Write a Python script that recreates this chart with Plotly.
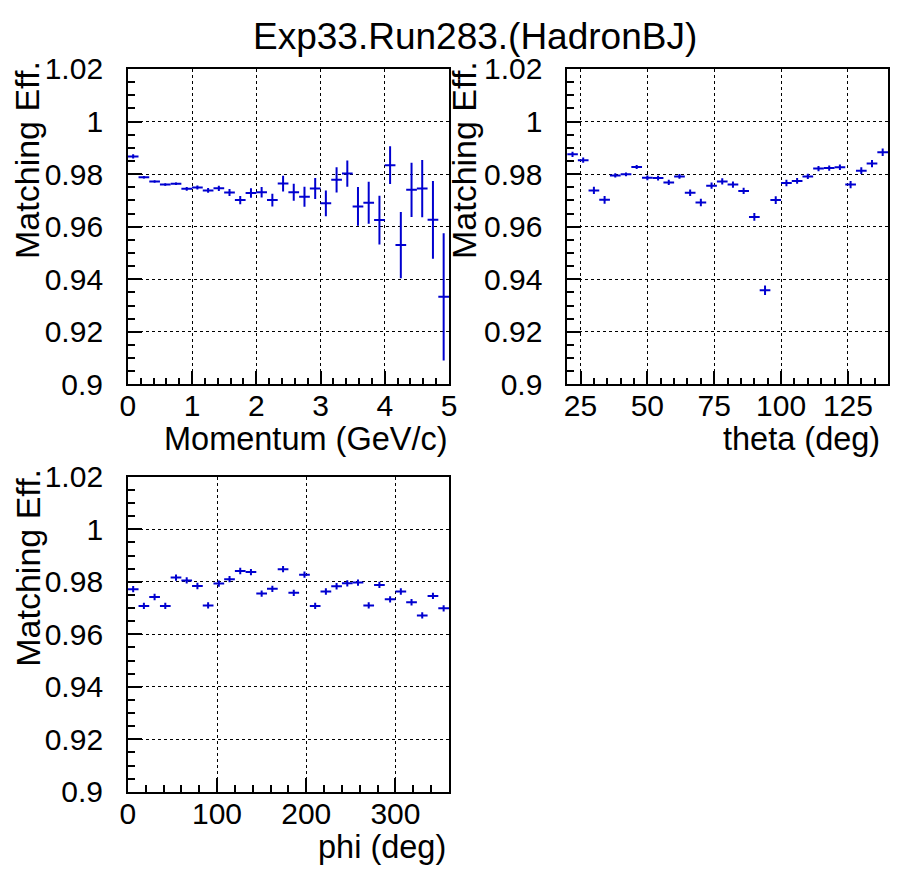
import plotly.graph_objects as go

# ---------------- data ----------------
mom_x = [0.083, 0.250, 0.417, 0.583, 0.750, 0.917, 1.083, 1.250, 1.417, 1.583,
         1.750, 1.917, 2.083, 2.250, 2.417, 2.583, 2.750, 2.917, 3.083, 3.250,
         3.417, 3.583, 3.750, 3.917, 4.083, 4.250, 4.417, 4.583, 4.750, 4.917]
mom_halfwidth = 0.0833
mom_eff = [0.9867, 0.9788, 0.9772, 0.9760, 0.9763, 0.9744, 0.9749, 0.9738, 0.9746, 0.9730,
           0.9701, 0.9728, 0.9731, 0.9701, 0.9764, 0.9731, 0.9714, 0.9745, 0.9689, 0.9778,
           0.9802, 0.9677, 0.9691, 0.9625, 0.9834, 0.9530, 0.9740, 0.9745, 0.9626, 0.9333]
mom_err = [0.0008, 0.0005, 0.0004, 0.0004, 0.0005, 0.0007, 0.0008, 0.0009, 0.0010, 0.0013,
           0.0016, 0.0018, 0.0020, 0.0024, 0.0030, 0.0032, 0.0038, 0.0040, 0.0049, 0.0048,
           0.0050, 0.0074, 0.0080, 0.0093, 0.0072, 0.0126, 0.0103, 0.0109, 0.0148, 0.0242]

theta_x = [22, 26, 30, 34, 38, 42, 46, 50, 54, 58, 62, 66, 70, 74, 78,
           82, 86, 90, 94, 98, 102, 106, 110, 114, 118, 122, 126, 130, 134, 138]
theta_halfwidth = 2.0
theta_eff = [0.9875, 0.9853, 0.9738, 0.9702, 0.9795, 0.9799, 0.9827, 0.9786, 0.9785, 0.9768,
             0.9791, 0.9729, 0.9692, 0.9756, 0.9772, 0.9760, 0.9736, 0.9637, 0.9358, 0.9701,
             0.9766, 0.9774, 0.9791, 0.9821, 0.9823, 0.9826, 0.9760, 0.9813, 0.9840, 0.9883]
theta_err = [0.0010, 0.0010, 0.0014, 0.0015, 0.0008, 0.0007, 0.0008, 0.0009, 0.0009, 0.0010,
             0.0009, 0.0012, 0.0014, 0.0012, 0.0012, 0.0012, 0.0012, 0.0015, 0.0018, 0.0015,
             0.0012, 0.0011, 0.0010, 0.0010, 0.0010, 0.0010, 0.0014, 0.0013, 0.0014, 0.0014]

phi_x = [6, 18, 30, 42, 54, 66, 78, 90, 102, 114, 126, 138, 150, 162, 174,
         186, 198, 210, 222, 234, 246, 258, 270, 282, 294, 306, 318, 330, 342, 354]
phi_halfwidth = 6.0
phi_eff = [0.9772, 0.9708, 0.9742, 0.9708, 0.9816, 0.9805, 0.9784, 0.9710, 0.9793, 0.9810,
           0.9841, 0.9837, 0.9755, 0.9773, 0.9848, 0.9758, 0.9827, 0.9708, 0.9763, 0.9783,
           0.9794, 0.9797, 0.9710, 0.9788, 0.9733, 0.9763, 0.9722, 0.9672, 0.9746, 0.9699]
phi_err = [0.0012] * 30

y_tickvals = [0.90, 0.92, 0.94, 0.96, 0.98, 1.00, 1.02]
y_ticktext = ["0.9", "0.92", "0.94", "0.96", "0.98", "1", "1.02"]

title_text = "Exp33.Run283.(HadronBJ)"
y_title = "Matching Eff."
x_titles = ["Momentum (GeV/c)", "theta (deg)", "phi (deg)"]

# ---------------- figure ----------------
W, H = 898, 889
FONT = "Liberation Sans, Arial, Helvetica, sans-serif"
BLUE = "#0000d0"
TICK_SIZE = 30
LABEL_SIZE = 32.5
YLABEL_SIZE = 34
TITLE_SIZE = 37

def px_x(p):
    return p / W

def px_y(p):
    return 1 - p / H

fig = go.Figure()

panels = [
    (mom_x, mom_eff, mom_err, mom_halfwidth, "x", "y"),
    (theta_x, theta_eff, theta_err, theta_halfwidth, "x2", "y2"),
    (phi_x, phi_eff, phi_err, phi_halfwidth, "x3", "y3"),
]
for xs, ys, es, hw, xa, ya in panels:
    fig.add_trace(go.Scatter(
        x=xs, y=ys, mode="markers", xaxis=xa, yaxis=ya,
        marker=dict(size=2, color=BLUE),
        error_x=dict(type="constant", value=hw, width=0, thickness=2, color=BLUE),
        error_y=dict(type="data", array=es, width=0, thickness=2, color=BLUE),
        showlegend=False, hoverinfo="skip",
    ))

common_axis = dict(
    showline=True, mirror=True, linecolor="black", linewidth=1.5,
    ticks="inside", ticklen=14, tickwidth=1.5, tickcolor="black",
    showgrid=True, gridcolor="black", gridwidth=1, griddash="dot",
    zeroline=False,
    tickfont=dict(family=FONT, size=TICK_SIZE, color="black"),
)

dom_x_left = [px_x(122), px_x(449)]
dom_x_right = [px_x(569.3), px_x(896)]
dom_y_top = [px_y(382), px_y(54)]
dom_y_bot = [px_y(805.7), px_y(478)]

def yaxis(anchor, dom):
    d = dict(common_axis)
    d.update(domain=dom, anchor=anchor, range=[0.9, 1.02],
             tickvals=y_tickvals, ticktext=y_ticktext,
             ticklabelstandoff=17,
             minor=dict(dtick=0.005, tick0=0.9, ticks="inside", ticklen=7,
                        tickwidth=1.5, tickcolor="black", showgrid=False))
    return d

def xaxis(anchor, dom, rng, dtick, mdtick):
    d = dict(common_axis)
    d.update(domain=dom, anchor=anchor, range=rng, dtick=dtick, tick0=0,
             ticklabelstandoff=-6,
             minor=dict(dtick=mdtick, tick0=0, ticks="inside", ticklen=7,
                        tickwidth=1.5, tickcolor="black", showgrid=False))
    return d

fig.update_layout(
    width=W, height=H,
    margin=dict(l=0, r=0, t=0, b=0),
    paper_bgcolor="white", plot_bgcolor="white",
    font=dict(family=FONT, color="black"),
    xaxis=xaxis("y", dom_x_left, [0, 5], 1, 0.2),
    yaxis=yaxis("x", dom_y_top),
    xaxis2=xaxis("y2", dom_x_right, [20, 140], 25, 5),
    yaxis2=yaxis("x2", dom_y_top),
    xaxis3=xaxis("y3", dom_x_left, [0, 360], 100, 20),
    yaxis3=yaxis("x3", dom_y_bot),
)

ann = []
# title
ann.append(dict(text=title_text, x=px_x(475), y=px_y(20), xref="paper", yref="paper",
                xanchor="center", yanchor="middle", showarrow=False,
                font=dict(family=FONT, size=TITLE_SIZE, color="black")))
# y titles
for xc, ytop in [(20, 44), (465, 44), (20, 468)]:
    ann.append(dict(text=y_title, x=px_x(xc), y=px_y(ytop), xref="paper", yref="paper",
                    xanchor="center", yanchor="top", textangle=-90, showarrow=False,
                    font=dict(family=FONT, size=YLABEL_SIZE, color="black")))
# x titles
for txt, xr, yc in [(x_titles[0], 450, 439), (x_titles[1], 890, 439), (x_titles[2], 448, 863)]:
    ann.append(dict(text=txt, x=px_x(xr), y=px_y(yc), xref="paper", yref="paper",
                    xanchor="right", yanchor="middle", showarrow=False,
                    font=dict(family=FONT, size=LABEL_SIZE, color="black")))
fig.update_layout(annotations=ann)

fig.write_html("out.html",
               post_script="document.body.style.margin='0px';document.body.style.padding='0px';")
